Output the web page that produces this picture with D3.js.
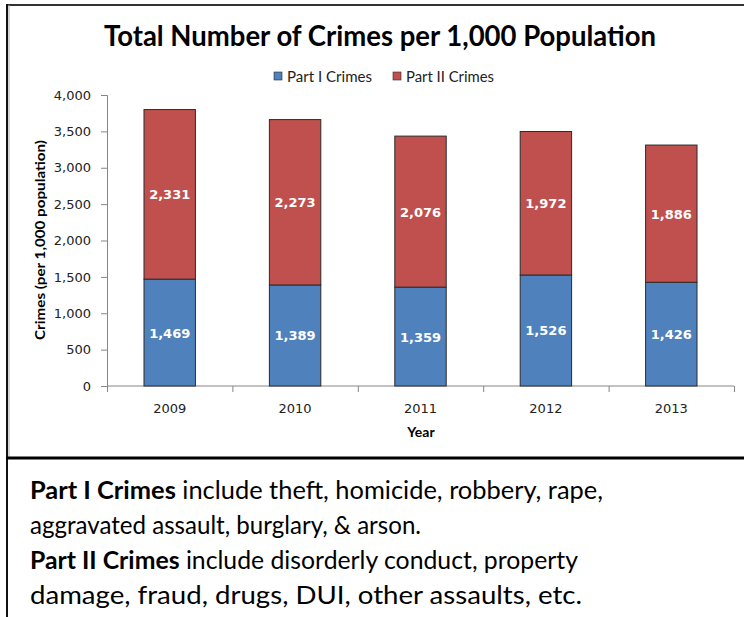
<!DOCTYPE html>
<html>
<head>
<meta charset="utf-8">
<script src="https://cdn.jsdelivr.net/npm/d3@7"></script>
<style>
  body { margin: 0; background: #fff; }
</style>
</head>
<body>
<div id="chart"></div>
<script>
// data
let years = ["2009", "2010", "2011", "2012", "2013"];
let part1 = [1469, 1389, 1359, 1526, 1426];
let part2 = [2331, 2273, 2076, 1972, 1886];
let seriesNames = ["Part I Crimes", "Part II Crimes"];
let yTicks = [0, 500, 1000, 1500, 2000, 2500, 3000, 3500, 4000];
let colors = ["#4f81bd", "#c0504d"];

let W = 744, H = 617;
let margin = { left: 107, right: 10, top: 95, bottom: 231 };
let chart_width = 734 - margin.left;
let chart_height = 386 - margin.top;
let tickFont = "DejaVu Sans, sans-serif";
let bodyFont = "Lato, 'Open Sans', sans-serif";

let svg = d3.select("#chart").append("svg")
  .attr("width", W)
  .attr("height", H)
  .style("font-family", bodyFont);

// frame lines
svg.append("line").attr("x1", 6).attr("x2", W).attr("y1", 5).attr("y2", 5)
  .attr("stroke", "#333").attr("stroke-width", 2);
svg.append("line").attr("x1", 9).attr("x2", 9).attr("y1", 5).attr("y2", 457)
  .attr("stroke", "#aaa").attr("stroke-width", 1);
svg.append("line").attr("x1", 7).attr("x2", 7).attr("y1", 4).attr("y2", H)
  .attr("stroke", "#111").attr("stroke-width", 2);
svg.append("line").attr("x1", 6).attr("x2", W).attr("y1", 458).attr("y2", 458)
  .attr("stroke", "#000").attr("stroke-width", 3);

// title
svg.append("text")
  .attr("x", 380).attr("y", 46)
  .attr("text-anchor", "middle")
  .attr("font-size", 29).attr("font-weight", "bold")
  .attr("textLength", 552).attr("lengthAdjust", "spacingAndGlyphs")
  .text("Total Number of Crimes per 1,000 Population");

let g = svg.append("g")
  .attr("transform", `translate(${margin.left},${margin.top})`);

let x = d3.scaleBand().domain(years).range([0, chart_width]).paddingInner(0.59).paddingOuter(0.295);
let y = d3.scaleLinear().domain([0, 4000]).range([chart_height, 0]);

// y axis
let yAxis = g.append("g")
  .call(d3.axisLeft(y).tickValues(yTicks).tickSize(6).tickPadding(10).tickFormat(d3.format(",")));
yAxis.select(".domain").attr("stroke", "#868686").attr("d", `M-6,0.5H0.5V${chart_height}`);
yAxis.selectAll(".tick line").attr("stroke", "#868686");
yAxis.selectAll(".tick text")
  .style("font-family", tickFont).attr("font-size", 13).attr("fill", "#222");

// x axis with ticks on band edges
let xEdge = d3.scaleLinear().domain([0, years.length]).range([0, chart_width]);
let xAxis = g.append("g")
  .attr("transform", `translate(0,${chart_height})`);
xAxis.append("line").attr("x1", 0).attr("x2", chart_width).attr("stroke", "#868686");
xAxis.selectAll(".edge").data(d3.range(years.length + 1)).enter().append("line")
  .attr("class", "edge")
  .attr("x1", (d) => xEdge(d) + 0.5).attr("x2", (d) => xEdge(d) + 0.5)
  .attr("y1", 0).attr("y2", 6).attr("stroke", "#868686");
xAxis.selectAll(".lab").data(years).enter().append("text")
  .attr("class", "lab")
  .attr("x", (d) => x(d) + x.bandwidth() / 2)
  .attr("y", 27)
  .attr("text-anchor", "middle")
  .style("font-family", tickFont).attr("font-size", 13).attr("fill", "#222")
  .text((d) => d);

// stacked bars
let rows = years.map((yr, i) => ({ year: yr, p1: part1[i], p2: part2[i] }));
let stack = d3.stack().keys(["p1", "p2"])(rows);

let layers = g.selectAll(".layer").data(stack).enter().append("g")
  .attr("class", "layer")
  .attr("fill", (d, i) => colors[i]);

layers.selectAll("rect").data((d) => d).enter().append("rect")
  .attr("x", (d) => x(d.data.year))
  .attr("y", (d) => y(d[1]))
  .attr("width", x.bandwidth())
  .attr("height", (d) => y(d[0]) - y(d[1]))
  .attr("stroke", "#2b2b2b").attr("stroke-width", 1);

layers.selectAll("text").data((d) => d).enter().append("text")
  .attr("x", (d) => x(d.data.year) + x.bandwidth() / 2)
  .attr("y", (d) => (y(d[0]) + y(d[1])) / 2 + 5)
  .attr("text-anchor", "middle")
  .style("font-family", tickFont).attr("font-weight", "bold").attr("font-size", 13)
  .attr("fill", "#fff")
  .text((d) => d3.format(",")(d[1] - d[0]));

// axis titles
svg.append("text")
  .attr("transform", "translate(45,240) rotate(-90)")
  .attr("text-anchor", "middle")
  .attr("font-size", 14).attr("font-weight", "bold")
  .attr("textLength", 200).attr("lengthAdjust", "spacingAndGlyphs")
  .text("Crimes (per 1,000 population)");
svg.append("text")
  .attr("x", 421).attr("y", 437)
  .attr("text-anchor", "middle")
  .attr("font-size", 14).attr("font-weight", "bold")
  .text("Year");

// legend
let legend = svg.append("g").attr("transform", "translate(274,77)");
let legX = [0, 119];
let legW = [85, 88];
seriesNames.forEach((name, i) => {
  legend.append("rect")
    .attr("x", legX[i]).attr("y", -5).attr("width", 8).attr("height", 8)
    .attr("fill", colors[i]).attr("stroke", "#2b2b2b").attr("stroke-width", 0.6);
  legend.append("text")
    .attr("x", legX[i] + 13).attr("y", 5)
    .attr("font-size", 14.5).attr("fill", "#222")
    .attr("textLength", legW[i]).attr("lengthAdjust", "spacingAndGlyphs")
    .text(name);
});

// notes below the chart
let notes = [
  { bold: "Part I Crimes", rest: " include theft, homicide, robbery, rape,", w: 573 },
  { bold: "", rest: "aggravated assault, burglary, & arson.", w: 391 },
  { bold: "Part II Crimes", rest: " include disorderly conduct, property", w: 548 },
  { bold: "", rest: "damage, fraud, drugs, DUI, other assaults, etc.", w: 552 }
];
notes.forEach((n, i) => {
  let t = svg.append("text")
    .attr("x", 30).attr("y", 499 + i * 35)
    .attr("font-size", 25.5).attr("fill", "#000")
    .attr("textLength", n.w).attr("lengthAdjust", "spacingAndGlyphs");
  if (n.bold) t.append("tspan").attr("font-weight", "bold").text(n.bold);
  t.append("tspan").text(n.rest);
});
</script>
</body>
</html>
